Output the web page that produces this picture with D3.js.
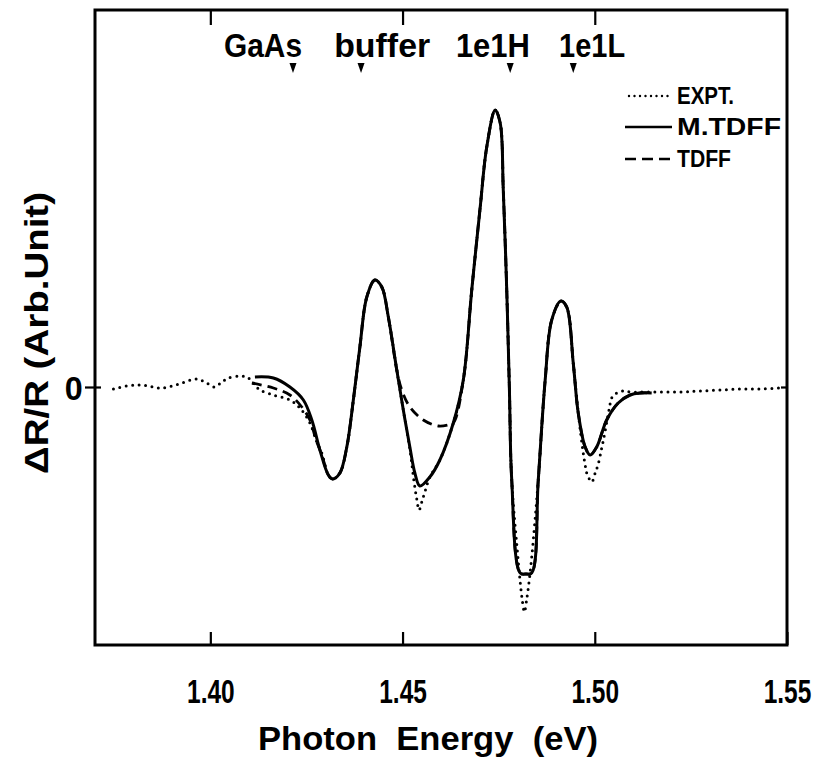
<!DOCTYPE html>
<html><head><meta charset="utf-8">
<script src="https://cdn.jsdelivr.net/npm/d3@7"></script>
<style>
html,body{margin:0;padding:0;background:#fff;}
svg{display:block;}
text{font-family:'Liberation Sans',Arial,Helvetica,sans-serif;font-weight:bold;fill:#000;}
</style></head>
<body>
<svg id="chart" width="815" height="760"></svg>
<script>
// ---- data ----
const xTicks = [1.40, 1.45, 1.50, 1.55];
const xTickLabels = ["1.40", "1.45", "1.50", "1.55"];
const yTicks = [0];
const yTickLabels = ["0"];

const peakNames = ["GaAs", "buffer", "1e1H", "1e1L"];
const peakArrowE = [1.4215, 1.4392, 1.4780, 1.4944];
const peakLabelE = [1.4137, 1.4447, 1.4735, 1.4993];

const seriesNames = ["EXPT.", "M.TDFF", "TDFF"];

const exptE = [1.3748,1.3782,1.3813,1.3839,1.3865,1.3891,1.3926,1.3965,1.3995,1.4012,1.4030,1.4047,1.4082,1.4099,1.4116,1.4129,1.4164,1.4207,1.4233,1.4259,1.4277,1.4290,1.4307,1.4318,1.4337,1.4355,1.4372,1.4389,1.4407,1.4428,1.4446,1.4463,1.4485,1.4502,1.4519,1.4530,1.4537,1.4543,1.4550,1.4558,1.4571,1.4597,1.4632,1.4658,1.4680,1.4702,1.4719,1.4741,1.4754,1.4762,1.4771,1.4778,1.4784,1.4800,1.4806,1.4811,1.4817,1.4823,1.4829,1.4836,1.4853,1.4871,1.4888,1.4912,1.4927,1.4944,1.4957,1.4970,1.4975,1.4979,1.4992,1.5001,1.5009,1.5018,1.5024,1.5038,1.5044,1.5057,1.5074,1.5092,1.5144,1.5222,1.5274,1.5326,1.5378,1.5430,1.5482];
const exptV = [-0.02,0.01,0.02,0.01,-0.01,0.00,0.04,0.08,0.03,0.00,0.05,0.09,0.11,0.09,0.02,-0.03,-0.08,-0.13,-0.21,-0.36,-0.55,-0.66,-0.88,-0.92,-0.86,-0.60,-0.13,0.40,0.90,1.07,1.00,0.70,0.17,-0.23,-0.62,-0.95,-1.12,-1.23,-1.15,-1.05,-0.90,-0.73,-0.36,0.07,0.97,1.80,2.40,2.77,2.64,1.97,0.97,-0.03,-0.93,-1.70,-1.95,-2.12,-2.25,-2.12,-1.95,-1.70,-0.93,0.07,0.67,0.86,0.80,0.24,-0.26,-0.66,-0.78,-0.86,-0.95,-0.86,-0.77,-0.61,-0.50,-0.21,-0.11,-0.06,-0.04,-0.05,-0.05,-0.05,-0.04,-0.03,-0.02,-0.02,-0.01];

const mtdffE = [1.4116,1.4164,1.4207,1.4242,1.4264,1.4285,1.4307,1.4318,1.4337,1.4355,1.4372,1.4389,1.4407,1.4428,1.4446,1.4463,1.4485,1.4502,1.4519,1.4532,1.4545,1.4571,1.4597,1.4632,1.4658,1.4680,1.4702,1.4719,1.4741,1.4754,1.4762,1.4771,1.4778,1.4784,1.4806,1.4821,1.4836,1.4853,1.4871,1.4888,1.4912,1.4927,1.4944,1.4957,1.4975,1.4988,1.5005,1.5031,1.5061,1.5092,1.5118,1.5148];
const mtdffV = [0.10,0.09,0.00,-0.13,-0.33,-0.63,-0.88,-0.92,-0.86,-0.60,-0.13,0.40,0.90,1.07,1.00,0.70,0.17,-0.23,-0.60,-0.86,-0.99,-0.90,-0.73,-0.36,0.07,0.97,1.80,2.40,2.77,2.64,1.97,0.97,-0.03,-0.93,-1.86,-1.87,-1.86,-0.93,0.07,0.67,0.86,0.80,0.24,-0.26,-0.60,-0.68,-0.60,-0.33,-0.16,-0.08,-0.06,-0.06];

const tdffE = [1.4108,1.4164,1.4207,1.4238,1.4259,1.4275,1.4290,1.4307,1.4318,1.4337,1.4355,1.4372,1.4389,1.4407,1.4428,1.4446,1.4463,1.4485,1.4498,1.4519,1.4554,1.4593,1.4618,1.4632,1.4658,1.4680,1.4702,1.4719,1.4741,1.4754,1.4762,1.4771,1.4778,1.4784,1.4806,1.4821,1.4836,1.4853,1.4871,1.4888,1.4912,1.4927,1.4944,1.4957,1.4975,1.4988,1.5005,1.5031,1.5061,1.5092,1.5118,1.5148];
const tdffV = [0.04,-0.01,-0.08,-0.20,-0.33,-0.53,-0.68,-0.88,-0.92,-0.86,-0.60,-0.13,0.40,0.90,1.07,1.00,0.70,0.17,-0.03,-0.20,-0.33,-0.39,-0.38,-0.36,0.07,0.97,1.80,2.40,2.77,2.64,1.97,0.97,-0.03,-0.93,-1.86,-1.87,-1.86,-0.93,0.07,0.67,0.86,0.80,0.24,-0.26,-0.60,-0.68,-0.60,-0.33,-0.16,-0.08,-0.06,-0.06];

// ---- layout ----
const L = 95, R = 787, T = 10, B = 645;
const svg = d3.select("#chart");
const x = d3.scaleLinear().domain([1.37, 1.55]).range([L, R]);
const y = d3.scaleLinear().domain([-2.58, 3.77]).range([B, T]);

const line = d3.line().x(d => x(d[0])).y(d => y(d[1])).curve(d3.curveCatmullRom.alpha(0.5));
const zip = (a, b) => a.map((v, i) => [v, b[i]]);

// curves
svg.append("path").datum(zip(exptE, exptV)).attr("d", line)
  .attr("fill", "none").attr("stroke", "#000").attr("stroke-width", 3)
  .attr("stroke-linecap", "round").attr("stroke-dasharray", "0 6.5");
svg.append("path").datum(zip(tdffE, tdffV)).attr("d", line)
  .attr("fill", "none").attr("stroke", "#000").attr("stroke-width", 2.8)
  .attr("stroke-dasharray", "10 6");
svg.append("path").datum(zip(mtdffE, mtdffV)).attr("d", line)
  .attr("fill", "none").attr("stroke", "#000").attr("stroke-width", 3);

// axes
const gB = svg.append("g").attr("transform", `translate(0,${B})`)
  .call(d3.axisBottom(x).tickValues(xTicks).tickFormat((d, i) => xTickLabels[i])
    .tickSizeInner(-13).tickSizeOuter(0).tickPadding(34));
const gT = svg.append("g").attr("transform", `translate(0,${T})`)
  .call(d3.axisTop(x).tickValues(xTicks.slice(0, 3)).tickFormat("")
    .tickSizeInner(-15).tickSizeOuter(0));
const gL = svg.append("g").attr("transform", `translate(${L},0)`)
  .call(d3.axisLeft(y).tickValues(yTicks).tickFormat((d, i) => yTickLabels[i])
    .tickSizeInner(10).tickSizeOuter(0).tickPadding(3));
const gLi = svg.append("g").attr("transform", `translate(${L},0)`)
  .call(d3.axisRight(y).tickValues(yTicks).tickFormat("").tickSizeInner(6).tickSizeOuter(0));
const gR = svg.append("g").attr("transform", `translate(${R},0)`)
  .call(d3.axisLeft(y).tickValues(yTicks).tickFormat("").tickSizeInner(6).tickSizeOuter(0));

[gB, gT, gL, gLi, gR].forEach(g => {
  g.attr("font-family", null).attr("font-size", null);
  g.select(".domain").remove();
  g.selectAll(".tick line").attr("stroke", "#000").attr("stroke-width", 2.2);
});
gB.selectAll(".tick text").attr("font-size", 34).attr("transform", "scale(0.72,1)");
gL.selectAll(".tick text").attr("font-size", 34).attr("dy", "0.36em")
  .attr("transform", "scale(0.95,1)");

// frame
svg.append("rect").attr("x", L).attr("y", T).attr("width", R - L).attr("height", B - T)
  .attr("fill", "none").attr("stroke", "#000").attr("stroke-width", 3);

// peak labels and arrows
const labelWidths = [78, 96, 74, 66];
svg.selectAll(".plabel").data(peakNames).join("text").attr("class", "plabel")
  .attr("x", (d, i) => x(peakLabelE[i])).attr("y", 57)
  .attr("text-anchor", "middle").attr("font-size", 33)
  .attr("textLength", (d, i) => labelWidths[i]).attr("lengthAdjust", "spacingAndGlyphs")
  .text(d => d);
svg.selectAll(".parrow").data(peakArrowE).join("path").attr("class", "parrow")
  .attr("d", d => `M${x(d) - 3.5},63 L${x(d) + 3.5},63 L${x(d)},73 Z`)
  .attr("fill", "#000");

// legend
const legY = [96, 127, 159];
const legDash = ["0 5.5", null, "11 6"];
const legW = [57, 104, 54];
seriesNames.forEach((name, i) => {
  svg.append("line").attr("x1", i === 0 ? 629 : 625).attr("x2", i === 0 ? 670 : 672)
    .attr("y1", legY[i]).attr("y2", legY[i])
    .attr("stroke", "#000").attr("stroke-width", i === 0 ? 2.4 : 2.6)
    .attr("stroke-linecap", i === 0 ? "round" : "butt")
    .attr("stroke-dasharray", legDash[i]);
  svg.append("text").attr("x", 677).attr("y", legY[i] + 8)
    .attr("font-size", 23).attr("textLength", legW[i]).attr("lengthAdjust", "spacingAndGlyphs")
    .text(name);
});

// axis titles
svg.append("text").attr("x", 428).attr("y", 750).attr("text-anchor", "middle")
  .attr("font-size", 34).attr("textLength", 340).attr("lengthAdjust", "spacingAndGlyphs")
  .attr("xml:space", "preserve").style("white-space", "pre")
  .text("Photon  Energy  (eV)");
svg.append("text").attr("transform", "translate(48,333) rotate(-90)")
  .attr("text-anchor", "middle").attr("font-size", 34)
  .attr("textLength", 282).attr("lengthAdjust", "spacingAndGlyphs")
  .text("ΔR/R (Arb.Unit)");
</script>
</body></html>
